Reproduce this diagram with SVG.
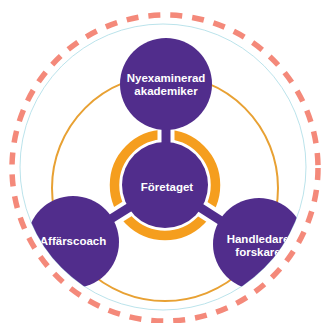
<svg xmlns="http://www.w3.org/2000/svg" width="323" height="323" viewBox="0 0 323 323">
  <defs>
    <style>
      .node { fill: #512D8C; }
      .lbl { fill: #ffffff; font-family: "Liberation Sans", Arial, sans-serif; font-weight: 700; font-size: 11.5px; text-anchor: middle; }
      .bar { stroke: #512D8C; stroke-width: 9; }
      .gap { stroke: #ffffff; stroke-width: 17; }
    </style>
    <clipPath id="outer">
      <circle cx="163" cy="167" r="143"/>
    </clipPath>
  </defs>
  <rect width="323" height="323" fill="#ffffff"/>
  <g id="rings">
    <circle cx="165" cy="168" r="153" fill="none" stroke="#F4897A" stroke-width="5.5" stroke-dasharray="12 10"/>
    <circle cx="163" cy="167" r="143" fill="none" stroke="#A9DCE6" stroke-width="0.8"/>
    <circle cx="165" cy="188" r="113" fill="none" stroke="#E8A133" stroke-width="2"/>
    <circle cx="165" cy="185" r="50.5" fill="none" stroke="#F59E1E" stroke-width="9.5"/>
  </g>
  <g id="connectors">
    <line class="gap" x1="166" y1="120" x2="166" y2="150"/>
    <line class="gap" x1="165" y1="185" x2="100" y2="226"/>
    <line class="gap" x1="165" y1="185" x2="232" y2="228"/>
    <line class="bar" x1="166" y1="110" x2="166" y2="160"/>
    <line class="bar" x1="165" y1="185" x2="90" y2="232"/>
    <line class="bar" x1="165" y1="185" x2="240" y2="233"/>
  </g>
  <g id="node-center">
    <circle class="node" cx="165" cy="185" r="43"/>
    <text class="lbl" x="167" y="191">Företaget</text>
  </g>
  <g id="node-top">
    <circle class="node" cx="166" cy="84" r="46"/>
    <text class="lbl" x="166" y="81.5">Nyexaminerad</text>
    <text class="lbl" x="166" y="94.5">akademiker</text>
  </g>
  <g id="node-left" clip-path="url(#outer)">
    <circle class="node" cx="73" cy="242" r="46"/>
    <text class="lbl" x="73" y="245">Affärscoach</text>
  </g>
  <g id="node-right" clip-path="url(#outer)">
    <circle class="node" cx="259" cy="244" r="46"/>
    <text class="lbl" x="258" y="243">Handledare</text>
    <text class="lbl" x="258" y="256">forskare</text>
  </g>
</svg>
